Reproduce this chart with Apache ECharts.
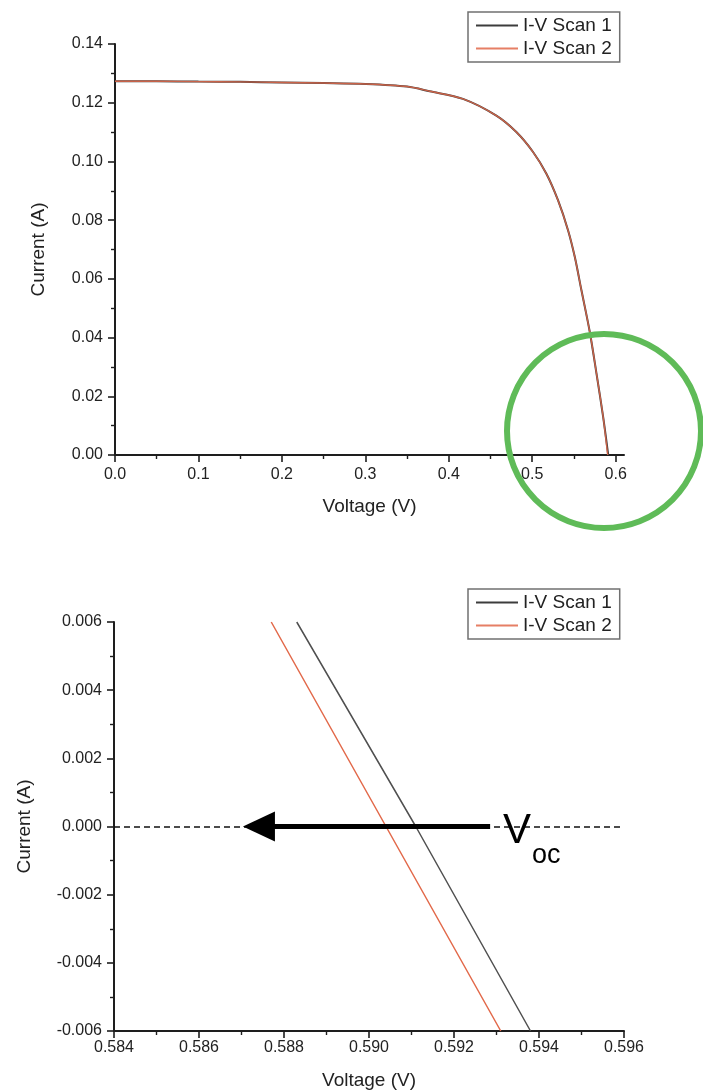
<!DOCTYPE html>
<html>
<head>
<meta charset="utf-8">
<script src="https://cdn.jsdelivr.net/npm/echarts@6/dist/echarts.min.js"></script>
<style>
  html, body { margin: 0; padding: 0; background: #fff; }
  #chart { width: 703px; height: 1091px; }
</style>
</head>
<body>
<div id="chart"></div>
<script>
// ---------- data ----------
const seriesNames = ['I-V Scan 1', 'I-V Scan 2'];

// full I-V curve (top panel)
const topVoltageScan1 = [0, 0.05, 0.10, 0.15, 0.20, 0.25, 0.30, 0.35, 0.377, 0.417, 0.457, 0.481, 0.501, 0.517, 0.531, 0.543, 0.551, 0.559, 0.569, 0.577, 0.585, 0.5911];
const topCurrentScan1 = [0.1273, 0.1273, 0.1272, 0.1271, 0.1269, 0.1267, 0.1264, 0.1255, 0.1239, 0.1213, 0.1156, 0.1100, 0.1032, 0.0958, 0.0867, 0.0765, 0.0675, 0.0561, 0.0419, 0.0278, 0.0130, 0];
const topVoltageScan2 = [0, 0.05, 0.10, 0.15, 0.20, 0.25, 0.30, 0.35, 0.377, 0.417, 0.457, 0.481, 0.501, 0.517, 0.531, 0.543, 0.551, 0.559, 0.569, 0.577, 0.585, 0.5904];
const topCurrentScan2 = [0.1273, 0.1273, 0.1272, 0.1271, 0.1269, 0.1267, 0.1264, 0.1255, 0.1239, 0.1213, 0.1156, 0.1100, 0.1032, 0.0958, 0.0867, 0.0765, 0.0675, 0.0561, 0.0419, 0.0278, 0.0130, 0];

// zoom near Voc (bottom panel)
const zoomVoltageScan1 = [0.5883, 0.5911, 0.5938];
const zoomVoltageScan2 = [0.5877, 0.5904, 0.5931];
const zoomCurrent = [0.006, 0.000, -0.006];

// tick labels
const topXTicks = [0, 0.1, 0.2, 0.3, 0.4, 0.5, 0.6];
const topXMinorTicks = [0.05, 0.15, 0.25, 0.35, 0.45, 0.55];

// annotation values
const vocDashedFrom = 0.584, vocDashedTo = 0.596;
const arrowTail = 0.59285, arrowHead = 0.58741;

// ---------- helpers ----------
const zip = (xs, ys) => xs.map((x, i) => [x, ys[i]]);
const FONT = "'Liberation Sans', Arial, Helvetica, sans-serif";
const AXIS_COLOR = '#1e1e1e';
const TEXT_COLOR = '#222';
const C1 = '#3c3c3c';
const C2 = '#e2694a';

function baseAxis(extra) {
  return Object.assign({
    axisLine: { show: true, onZero: false, lineStyle: { color: AXIS_COLOR, width: 2 } },
    axisTick: { show: true, inside: false, length: 7, lineStyle: { color: AXIS_COLOR, width: 1.6 } },
    minorTick: { show: true, splitNumber: 2, length: 4, lineStyle: { color: AXIS_COLOR, width: 1.4 } },
    splitLine: { show: false },
    minorSplitLine: { show: false },
    axisLabel: { color: TEXT_COLOR, fontSize: 16, fontFamily: FONT },
    nameTextStyle: { color: TEXT_COLOR, fontSize: 19, fontFamily: FONT },
    nameLocation: 'middle'
  }, extra);
}

function legendAt(top) {
  return {
    data: seriesNames,
    orient: 'vertical',
    left: 468,
    top: top,
    padding: [4, 8, 4, 7],
    itemGap: 4,
    itemWidth: 42,
    itemHeight: 14,
    backgroundColor: '#fff',
    borderColor: '#707070',
    borderWidth: 1.5,
    borderRadius: 0,
    selectedMode: false,
    itemStyle: { opacity: 0 },
    textStyle: { color: TEXT_COLOR, fontSize: 19, fontFamily: FONT, padding: [0, 0, 0, 0] }
  };
}

const chart = echarts.init(document.getElementById('chart'), null, { renderer: 'canvas', width: 703, height: 1091 });

const option = {
  animation: false,
  backgroundColor: '#ffffff',
  legend: [legendAt(12), legendAt(589)],
  grid: [
    { left: 115, top: 44, width: 509, height: 411 },
    { left: 114, top: 622, width: 510, height: 409 }
  ],
  xAxis: [
    baseAxis({
      gridIndex: 0, type: 'value', min: 0, max: 0.61,
      name: 'Voltage (V)', nameGap: 42,
      minorTick: { show: false },
      axisTick: { show: true, length: 7, customValues: topXTicks, lineStyle: { color: AXIS_COLOR, width: 1.6 } },
      axisLabel: { color: TEXT_COLOR, fontSize: 16, fontFamily: FONT, margin: 12, customValues: topXTicks, formatter: v => v.toFixed(1) }
    }),
    // minor ticks of the top x axis
    {
      gridIndex: 0, type: 'value', min: 0, max: 0.61, position: 'bottom',
      axisLine: { show: false },
      axisLabel: { show: false },
      splitLine: { show: false },
      axisTick: { show: true, length: 4, customValues: topXMinorTicks, lineStyle: { color: AXIS_COLOR, width: 1.4 } }
    },
    baseAxis({
      gridIndex: 1, type: 'value', min: 0.584, max: 0.596, interval: 0.002,
      name: 'Voltage (V)', nameGap: 40,
      axisLabel: { color: TEXT_COLOR, fontSize: 16, fontFamily: FONT, margin: 9, formatter: v => v.toFixed(3) }
    })
  ],
  yAxis: [
    baseAxis({
      gridIndex: 0, type: 'value', min: 0, max: 0.14, interval: 0.02,
      name: 'Current (A)', nameGap: 67,
      axisLabel: { color: TEXT_COLOR, fontSize: 16, fontFamily: FONT, margin: 12, formatter: v => v.toFixed(2) }
    }),
    baseAxis({
      gridIndex: 1, type: 'value', min: -0.006, max: 0.006, interval: 0.002,
      name: 'Current (A)', nameGap: 80,
      axisLabel: { color: TEXT_COLOR, fontSize: 16, fontFamily: FONT, margin: 12, formatter: v => v.toFixed(3) }
    })
  ],
  series: [
    {
      name: seriesNames[0], type: 'line', xAxisIndex: 0, yAxisIndex: 0,
      data: zip(topVoltageScan1, topCurrentScan1),
      symbol: 'none', smooth: 0.3,
      lineStyle: { color: C1, width: 2 }, itemStyle: { color: C1 }, z: 2
    },
    {
      name: seriesNames[1], type: 'line', xAxisIndex: 0, yAxisIndex: 0,
      data: zip(topVoltageScan2, topCurrentScan2),
      symbol: 'none', smooth: 0.3,
      lineStyle: { color: C2, width: 1.4, opacity: 0.85 }, itemStyle: { color: C2 }, z: 3
    },
    {
      name: seriesNames[0], type: 'line', xAxisIndex: 2, yAxisIndex: 1,
      data: zip(zoomVoltageScan1, zoomCurrent),
      symbol: 'none',
      lineStyle: { color: '#505050', width: 1.5 }, itemStyle: { color: C1 }, z: 2,
      markLine: {
        silent: true, animation: false, symbol: 'none',
        label: { show: false },
        emphasis: { disabled: true },
        data: [
          [
            { coord: [vocDashedFrom, 0], lineStyle: { color: '#111', width: 1.5, type: [6, 4] } },
            { coord: [vocDashedTo, 0], lineStyle: { color: '#111', width: 1.5, type: [6, 4] } }
          ],
          [
            { coord: [arrowTail, 0], symbol: 'none', lineStyle: { color: '#000', width: 5, type: 'solid' } },
            { coord: [arrowHead, 0], symbol: 'triangle', symbolSize: [30, 32], lineStyle: { color: '#000', width: 5, type: 'solid' } }
          ]
        ]
      }
    },
    {
      name: seriesNames[1], type: 'line', xAxisIndex: 2, yAxisIndex: 1,
      data: zip(zoomVoltageScan2, zoomCurrent),
      symbol: 'none',
      lineStyle: { color: C2, width: 1.5 }, itemStyle: { color: C2 }, z: 3
    }
  ],
  graphic: [
    {
      type: 'circle', z: 100, silent: true,
      shape: { cx: 604, cy: 431, r: 97 },
      style: { fill: null, stroke: '#5fbb58', lineWidth: 6 }
    },
    {
      type: 'text', z: 100, silent: true, x: 503, y: 831,
      style: { text: 'V', fontSize: 42, fontFamily: FONT, fill: '#000', align: 'left', verticalAlign: 'middle' }
    },
    {
      type: 'text', z: 100, silent: true, x: 532, y: 856,
      style: { text: 'oc', fontSize: 27, fontFamily: FONT, fill: '#000', align: 'left', verticalAlign: 'middle' }
    }
  ]
};

chart.setOption(option);
</script>
</body>
</html>
